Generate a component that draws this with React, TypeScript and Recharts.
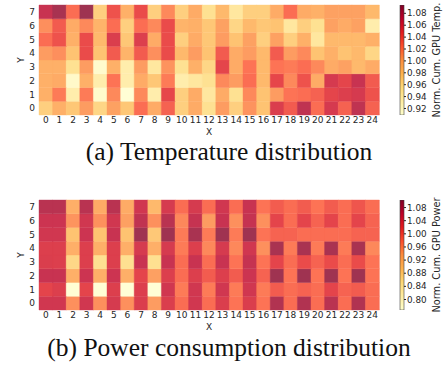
import React from 'react';
import { BarChart, Bar, XAxis, YAxis, Cell } from 'recharts';

// X categories (columns) and Y rows of both heatmaps
const xLabels = ['0', '1', '2', '3', '4', '5', '6', '7', '8', '9', '10', '11', '12', '13', '14', '15', '16', '17', '18', '19', '20', '21', '22', '23', '24'];
const yRows = [0, 1, 2, 3, 4, 5, 6, 7];
const yTicks = [0.5, 1.5, 2.5, 3.5, 4.5, 5.5, 6.5, 7.5];

// normalized cumulative GPU temperature, one list per Y row (index = Y)
const tempRows: number[][] = [
  [0.968, 0.992, 0.974, 1.005, 0.963, 1.003, 0.974, 1.027, 0.996, 1.033, 0.968, 0.996, 0.955, 1.005, 0.968, 1.009, 0.977, 1.059, 1.037, 1.076, 1.027, 1.063, 1.033, 1.076, 1.033],
  [0.992, 1.02, 0.937, 1.02, 0.915, 1.014, 0.91, 1.014, 0.937, 1.05, 0.968, 0.996, 0.946, 0.996, 0.955, 1.014, 0.977, 1.005, 1.024, 1.027, 1.033, 1.051, 1.057, 1.063, 1.042],
  [0.992, 0.996, 0.918, 0.992, 0.937, 1.024, 0.937, 0.996, 0.974, 1.02, 0.937, 0.946, 0.955, 1.014, 1.005, 1.027, 0.985, 1.05, 1.014, 1.042, 0.996, 1.063, 1.051, 1.072, 1.037],
  [0.992, 0.992, 0.955, 1.005, 0.915, 0.992, 0.937, 1.005, 0.946, 1.009, 0.955, 0.992, 0.963, 1.051, 0.996, 1.024, 0.985, 1.024, 1.02, 1.027, 1.014, 0.996, 1.003, 0.985, 0.996],
  [1.005, 1.011, 0.977, 1.046, 0.977, 1.037, 0.989, 1.037, 1.011, 1.046, 0.985, 1.005, 0.977, 1.037, 0.996, 1.005, 0.985, 1.037, 1.005, 1.014, 0.977, 0.992, 0.977, 0.985, 0.963],
  [1.027, 1.042, 0.992, 1.046, 0.985, 1.059, 0.974, 1.057, 0.996, 1.046, 0.968, 0.996, 0.974, 1.005, 0.977, 1.003, 0.968, 1.003, 0.968, 0.992, 0.946, 0.985, 0.985, 0.985, 0.992],
  [1.011, 1.037, 0.996, 1.014, 0.989, 1.027, 0.968, 1.027, 1.014, 1.046, 0.989, 0.992, 0.974, 1.003, 0.963, 0.985, 0.974, 0.977, 0.946, 0.968, 0.955, 1.003, 0.996, 1.003, 0.937],
  [1.072, 1.087, 1.027, 1.092, 0.968, 1.042, 0.992, 1.046, 0.968, 1.014, 0.968, 0.996, 0.955, 0.985, 0.946, 0.968, 0.968, 0.996, 1.027, 0.996, 0.992, 1.003, 1.003, 1.003, 0.985],
];

// normalized cumulative GPU power, one list per Y row (index = Y)
const powerRows: number[][] = [
  [1.053, 1.053, 0.952, 1.053, 0.952, 1.046, 0.952, 1.039, 0.942, 1.039, 0.982, 1.053, 0.982, 1.039, 0.976, 1.039, 0.976, 1.083, 0.982, 1.083, 0.982, 1.076, 0.982, 1.083, 0.982],
  [1.026, 1.036, 0.77, 1.026, 0.77, 1.036, 0.77, 1.036, 0.77, 1.053, 0.969, 1.053, 0.969, 1.053, 0.969, 1.053, 0.969, 0.999, 0.982, 0.992, 0.982, 1.026, 0.992, 0.999, 0.982],
  [1.063, 1.063, 0.919, 1.059, 0.919, 1.059, 0.919, 1.026, 0.939, 1.036, 0.982, 1.036, 0.999, 1.036, 0.999, 1.059, 0.992, 1.098, 0.976, 1.098, 0.976, 1.098, 0.976, 1.098, 0.976],
  [1.039, 1.036, 0.865, 1.036, 0.852, 1.036, 0.852, 1.063, 0.852, 1.063, 0.982, 1.063, 0.982, 1.063, 0.976, 1.066, 0.976, 1.026, 0.982, 1.016, 0.992, 1.016, 0.982, 1.016, 0.976],
  [1.036, 1.036, 0.919, 1.036, 0.919, 1.036, 0.919, 1.046, 0.919, 1.046, 0.969, 1.036, 0.959, 1.046, 0.959, 1.053, 0.952, 1.09, 0.969, 1.09, 0.969, 1.09, 0.969, 1.09, 0.959],
  [1.053, 1.053, 0.892, 1.059, 0.892, 1.063, 0.892, 1.098, 0.885, 1.098, 0.969, 1.09, 0.969, 1.098, 0.969, 1.098, 0.976, 0.992, 0.992, 0.982, 0.982, 0.982, 0.982, 0.992, 0.992],
  [1.059, 1.059, 0.949, 1.053, 0.952, 1.053, 0.939, 1.07, 0.952, 1.076, 0.959, 1.066, 0.942, 1.063, 0.952, 1.066, 0.952, 1.026, 0.982, 1.026, 0.992, 1.026, 0.982, 1.026, 0.992],
  [1.076, 1.076, 0.919, 1.076, 0.925, 1.076, 0.925, 1.053, 0.905, 1.046, 0.982, 1.046, 0.982, 1.053, 0.982, 1.063, 0.976, 0.999, 0.982, 0.999, 0.976, 0.999, 0.982, 1.006, 0.982],
];

const tempRange = [0.909, 1.094];
const tempTicks = [0.92, 0.94, 0.96, 0.98, 1.0, 1.02, 1.04, 1.06, 1.08];
const powerRange = [0.768, 1.103];
const powerTicks = [0.8, 0.84, 0.88, 0.92, 0.96, 1.0, 1.04, 1.08];

// matplotlib YlOrRd
const YLORRD = ['#ffffcc', '#ffeda0', '#fed976', '#feb24c', '#fd8d3c', '#fc4e2a', '#e31a1c', '#bd0026', '#800026'];

const hexRgb = (c: string) => [1, 3, 5].map((i) => parseInt(c.slice(i, i + 2), 16));

function colorOf(v: number, range: number[], alpha = 0.8) {
  let t = (v - range[0]) / (range[1] - range[0]);
  t = Math.max(0, Math.min(1, t));
  const p = t * 8;
  const i = Math.min(7, Math.floor(p));
  const f = p - i;
  const a = hexRgb(YLORRD[i]);
  const b = hexRgb(YLORRD[i + 1]);
  const rgb = a.map((ch, k) => Math.round((ch + (b[k] - ch) * f) * alpha + 255 * (1 - alpha)));
  return `rgb(${rgb[0]},${rgb[1]},${rgb[2]})`;
}

const tickFont = { fontSize: 9, fill: '#262626', fontFamily: 'DejaVu Sans' };

function AxisName({ viewBox, text, dx, dy, rotate, size = 9.5 }: any) {
  const x = viewBox.x + dx;
  const y = viewBox.y + dy;
  return (
    <text
      x={x}
      y={y}
      textAnchor="middle"
      dominantBaseline="central"
      fontSize={size}
      fontFamily="DejaVu Sans"
      fill="#262626"
      transform={rotate ? `rotate(-90 ${x} ${y})` : undefined}
    >
      {text}
    </text>
  );
}

function Heatmap({ rows, range, top }: { rows: number[][]; range: number[]; top: number }) {
  const data = xLabels.map((x, ci) => {
    const d: any = { x };
    yRows.forEach((ri) => {
      d['s' + ri] = 1;
      d['v' + ri] = rows[ri][ci];
    });
    return d;
  });

  return (
    <div style={{ position: 'absolute', left: 0, top }}>
      <BarChart width={390} height={140} data={data} margin={{ top: 5, right: 11, left: 0, bottom: 0 }} barCategoryGap={0} barGap={0}>
        <XAxis
          dataKey="x"
          interval={0}
          tickLine={false}
          axisLine={false}
          tick={tickFont}
          tickSize={0}
          tickMargin={2}
          height={25}
          label={<AxisName text="X" dx={170} dy={16.5} size={9} />}
        />
        <YAxis
          type="number"
          domain={[0, 8]}
          ticks={yTicks}
          interval={0}
          tickFormatter={(v: number) => String(v - 0.5)}
          tickLine={false}
          axisLine={false}
          tick={tickFont}
          tickSize={0}
          tickMargin={4}
          width={39}
          label={<AxisName text="Y" dx={21} dy={55} rotate size={9} />}
        />
        {yRows.map((ri) => (
          <Bar key={ri} dataKey={'s' + ri} stackId="grid" isAnimationActive={false}>
            {data.map((d, ci) => {
              const c = colorOf(d['v' + ri], range);
              return <Cell key={ci} fill={c} stroke={c} strokeWidth={0.4} />;
            })}
          </Bar>
        ))}
      </BarChart>
    </div>
  );
}

function ColorBar({ range, ticks, label, top, gradId }: { range: number[]; ticks: number[]; label: string; top: number; gradId: string }) {
  return (
    <div style={{ position: 'absolute', left: 395, top }}>
      <BarChart width={50} height={140} data={[{ name: 'cb', span: range }]} margin={{ top: 5, right: 0, left: 5, bottom: 25 }} barCategoryGap={0}>
        <defs>
          <linearGradient id={gradId} x1="0" y1="1" x2="0" y2="0">
            {YLORRD.map((c, i) => (
              <stop key={i} offset={i / 8} stopColor={c} />
            ))}
          </linearGradient>
        </defs>
        <XAxis dataKey="name" hide />
        <YAxis
          orientation="right"
          type="number"
          domain={range}
          ticks={ticks}
          interval={0}
          allowDataOverflow
          tickFormatter={(v: number) => v.toFixed(2)}
          axisLine={false}
          tickSize={2}
          tickMargin={1}
          tickLine={{ stroke: '#262626' }}
          tick={{ ...tickFont, fontSize: 8.8 }}
          width={41}
          label={<AxisName text={label} dx={32} dy={55} rotate size={9.8} />}
        />
        <Bar dataKey="span" fill={`url(#${gradId})`} stroke="#404040" strokeWidth={0.6} isAnimationActive={false} />
      </BarChart>
    </div>
  );
}

const captionStyle: React.CSSProperties = {
  position: 'absolute',
  left: 29,
  width: 400,
  textAlign: 'center',
  fontFamily: '"Liberation Serif", "Times New Roman", serif',
  fontSize: 25.5,
  lineHeight: 0.8,
  color: '#111',
  whiteSpace: 'nowrap',
};

export default function App() {
  return (
    <div style={{ position: 'absolute', left: 0, top: 0, width: 445, height: 365, background: '#fff', overflow: 'hidden' }}>
      <Heatmap rows={tempRows} range={tempRange} top={0} />
      <ColorBar range={tempRange} ticks={tempTicks} label="Norm. Cum. GPU Temp." top={0} gradId="cbTemp" />
      <div style={{ ...captionStyle, top: 142 }}>(a) Temperature distribution</div>
      <Heatmap rows={powerRows} range={powerRange} top={195} />
      <ColorBar range={powerRange} ticks={powerTicks} label="Norm. Cum. GPU Power" top={195} gradId="cbPower" />
      <div style={{ ...captionStyle, top: 338 }}>(b) Power consumption distribution</div>
    </div>
  );
}
